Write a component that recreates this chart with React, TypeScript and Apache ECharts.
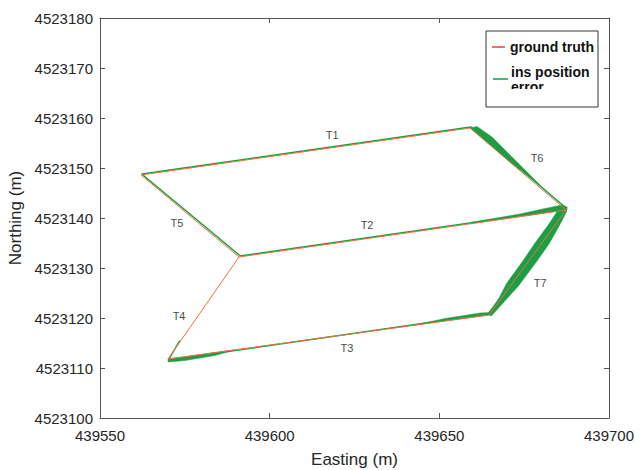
import React, { useEffect, useRef } from "react";
import * as echarts from "echarts";

// Ground-truth trajectory (Easting, Northing) vertices
const gtEasting = [439590.97, 439562.1, 439659.05, 439687.34, 439664.65, 439570.04, 439590.97, 439687.34];
const gtNorthing = [4523132.2, 4523148.6, 4523158.0, 4523141.6, 4523120.6, 4523111.8, 4523132.2, 4523141.6];

// INS trajectory (null = gap)
const insEasting: (number | null)[] = [439591.2, 439562.3, 439659.3, 439687.5, 439664.4, 439570.2, 439573.5, null, 439591.2, 439687.5];
const insNorthing: (number | null)[] = [4523132.5, 4523148.8, 4523158.2, 4523141.9, 4523120.8, 4523111.6, 4523115.5, null, 4523132.4, 4523141.8];

// INS position-error bands (polygons) along segments
const bandT6: [number, number][] = [
  [439659.05, 4523158.0], [439661.11, 4523158.3], [439665.53, 4523156.2], [439671.43, 4523152.2],
  [439679.68, 4523146.6], [439671.43, 4523150.82], [439665.53, 4523154.24],
];
const bandT2: [number, number][] = [
  [439659.05, 4523139.1], [439673.79, 4523140.8], [439681.15, 4523141.9], [439686.16, 4523142.6],
  [439687.63, 4523142.2], [439687.34, 4523141.6], [439681.15, 4523141.0], [439673.79, 4523140.28],
  [439659.05, 4523138.84],
];
const bandT7: [number, number][] = [
  [439664.65, 4523120.6], [439667.6, 4523124.0], [439669.9, 4523127.0], [439674.6, 4523131.4],
  [439678.2, 4523135.0], [439682.3, 4523138.8], [439685.0, 4523141.6], [439687.63, 4523142.2],
  [439687.6, 4523141.4], [439685.3, 4523138.4], [439682.5, 4523135.0], [439679.0, 4523131.6],
  [439673.3, 4523126.4], [439665.3, 4523120.4],
];
const bandT3Right: [number, number][] = [
  [439642.84, 4523118.62], [439651.68, 4523119.9], [439661.99, 4523121.0], [439665.24, 4523121.1],
  [439664.65, 4523120.6], [439651.68, 4523119.4],
];
const bandT3Left: [number, number][] = [
  [439570.04, 4523111.8], [439570.04, 4523111.2], [439575.05, 4523111.5], [439583.89, 4523112.5],
  [439589.79, 4523113.64], [439579.47, 4523112.68],
];
const bands = [bandT6, bandT2, bandT7, bandT3Right, bandT3Left];

// Segment labels
const segNames = ["T1", "T2", "T3", "T4", "T5", "T6", "T7"];
const segEasting = [439618.4, 439628.7, 439622.8, 439573.3, 439572.7, 439678.8, 439679.7];
const segNorthing = [4523156.6, 4523138.6, 4523114.0, 4523120.4, 4523139.0, 4523152.0, 4523127.0];

// Axis ticks
const xTicks = [439550, 439600, 439650, 439700];
const yTicks = [4523100, 4523110, 4523120, 4523130, 4523140, 4523150, 4523160, 4523170, 4523180];

const FONT = "'Liberation Sans', Arial, Helvetica, sans-serif";
const AXIS_COLOR = "#555555";
const TEXT_COLOR = "#262626";
const GREEN = "#1c9e45";
const RED = "#f0703c";

export default function App() {
  const ref = useRef<HTMLDivElement>(null);
  useEffect(() => {
    const chart = echarts.init(ref.current!, null, { renderer: "svg" });
    const axisCommon = {
      type: "value",
      axisLine: { show: true, lineStyle: { color: AXIS_COLOR, width: 1 } },
      axisTick: { show: true, inside: true, length: 5, lineStyle: { color: AXIS_COLOR } },
      splitLine: { show: false },
    };
    const plain = (v: number) => String(v);
    chart.setOption({
      animation: false,
      backgroundColor: "#ffffff",
      textStyle: { fontFamily: FONT },
      grid: { left: 100, right: 32, top: 18, bottom: 52, containLabel: false, outerBoundsMode: "none" },
      xAxis: [
        {
          ...axisCommon,
          position: "bottom",
          min: xTicks[0],
          max: xTicks[xTicks.length - 1],
          interval: 50,
          axisLabel: { fontSize: 15, color: TEXT_COLOR, margin: 10, fontFamily: FONT, formatter: plain },
          name: "Easting (m)",
          nameLocation: "middle",
          nameGap: 33,
          nameTextStyle: { fontSize: 17, color: TEXT_COLOR, fontFamily: FONT },
        },
        {
          ...axisCommon,
          position: "top",
          min: xTicks[0],
          max: xTicks[xTicks.length - 1],
          interval: 50,
          axisLabel: { show: false },
        },
      ],
      yAxis: [
        {
          ...axisCommon,
          position: "left",
          min: yTicks[0],
          max: yTicks[yTicks.length - 1],
          interval: 10,
          axisLabel: { fontSize: 15, color: TEXT_COLOR, margin: 7, fontFamily: FONT, formatter: plain },
          name: "Northing (m)",
          nameLocation: "middle",
          nameGap: 74,
          nameRotate: 90,
          nameTextStyle: { fontSize: 17, color: TEXT_COLOR, fontFamily: FONT },
        },
        {
          ...axisCommon,
          position: "right",
          min: yTicks[0],
          max: yTicks[yTicks.length - 1],
          interval: 10,
          axisLabel: { show: false },
        },
      ],
      series: [
        {
          name: "ins position error",
          type: "line",
          xAxisIndex: 0,
          yAxisIndex: 0,
          data: insEasting.map((e, i) => (e === null ? [null, null] : [e, insNorthing[i]])),
          connectNulls: false,
          showSymbol: false,
          symbol: "none",
          lineStyle: { color: GREEN, width: 1.5 },
          z: 2,
        },
        {
          name: "error bands",
          type: "custom",
          xAxisIndex: 0,
          yAxisIndex: 0,
          data: bands.map((b, i) => [b[0][0], b[0][1], i]),
          renderItem: (params: any, api: any) => {
            const idx = api.value(2);
            const pts = bands[idx].map((p) => api.coord(p));
            return {
              type: "polygon",
              shape: { points: pts },
              style: { fill: GREEN, stroke: GREEN, lineWidth: 0.5 },
            };
          },
          z: 3,
        },
        {
          name: "ground truth",
          type: "line",
          xAxisIndex: 0,
          yAxisIndex: 0,
          data: gtEasting.map((e, i) => [e, gtNorthing[i]]),
          showSymbol: false,
          symbol: "none",
          lineStyle: { color: RED, width: 1 },
          z: 4,
        },
        {
          name: "segments",
          type: "scatter",
          xAxisIndex: 0,
          yAxisIndex: 0,
          symbolSize: 0,
          data: segNames.map((n, i) => ({ name: n, value: [segEasting[i], segNorthing[i]] })),
          label: {
            show: true,
            position: "inside",
            formatter: "{b}",
            fontSize: 11,
            color: "#111111",
            textBorderWidth: 0,
            textBorderColor: "transparent",
            fontFamily: FONT,
          },
          z: 5,
        },
      ],
      graphic: [
        {
          type: "rect",
          shape: { x: 486, y: 31, width: 112, height: 76 },
          style: { fill: "#ffffff", stroke: "#333333", lineWidth: 1 },
          z: 10,
        },
        {
          type: "line",
          shape: { x1: 492, y1: 47, x2: 505, y2: 47 },
          style: { stroke: "#f04040", lineWidth: 1.5 },
          z: 11,
        },
        {
          type: "text",
          x: 510,
          y: 47,
          style: {
            text: "ground truth",
            font: "bold 14px 'Liberation Sans', Arial, sans-serif",
            fill: "#111111",
            verticalAlign: "middle",
          },
          z: 11,
        },
        {
          type: "line",
          shape: { x1: 493, y1: 79, x2: 508, y2: 79 },
          style: { stroke: "#3cba78", lineWidth: 2 },
          z: 11,
        },
        {
          type: "text",
          x: 511,
          y: 72,
          style: {
            text: "ins position",
            font: "bold 14px 'Liberation Sans', Arial, sans-serif",
            fill: "#111111",
            verticalAlign: "middle",
          },
          z: 11,
        },
        {
          type: "text",
          x: 511,
          y: 87,
          style: {
            text: "error",
            font: "bold 14px 'Liberation Sans', Arial, sans-serif",
            fill: "#111111",
            verticalAlign: "middle",
          },
          z: 11,
        },
        {
          type: "rect",
          shape: { x: 509, y: 89, width: 60, height: 12 },
          style: { fill: "#ffffff" },
          z: 12,
        },
      ],
    });
    return () => chart.dispose();
  }, []);
  return (
    <div
      ref={ref}
      style={{ position: "absolute", left: 0, top: 0, width: 641, height: 470 }}
    />
  );
}
